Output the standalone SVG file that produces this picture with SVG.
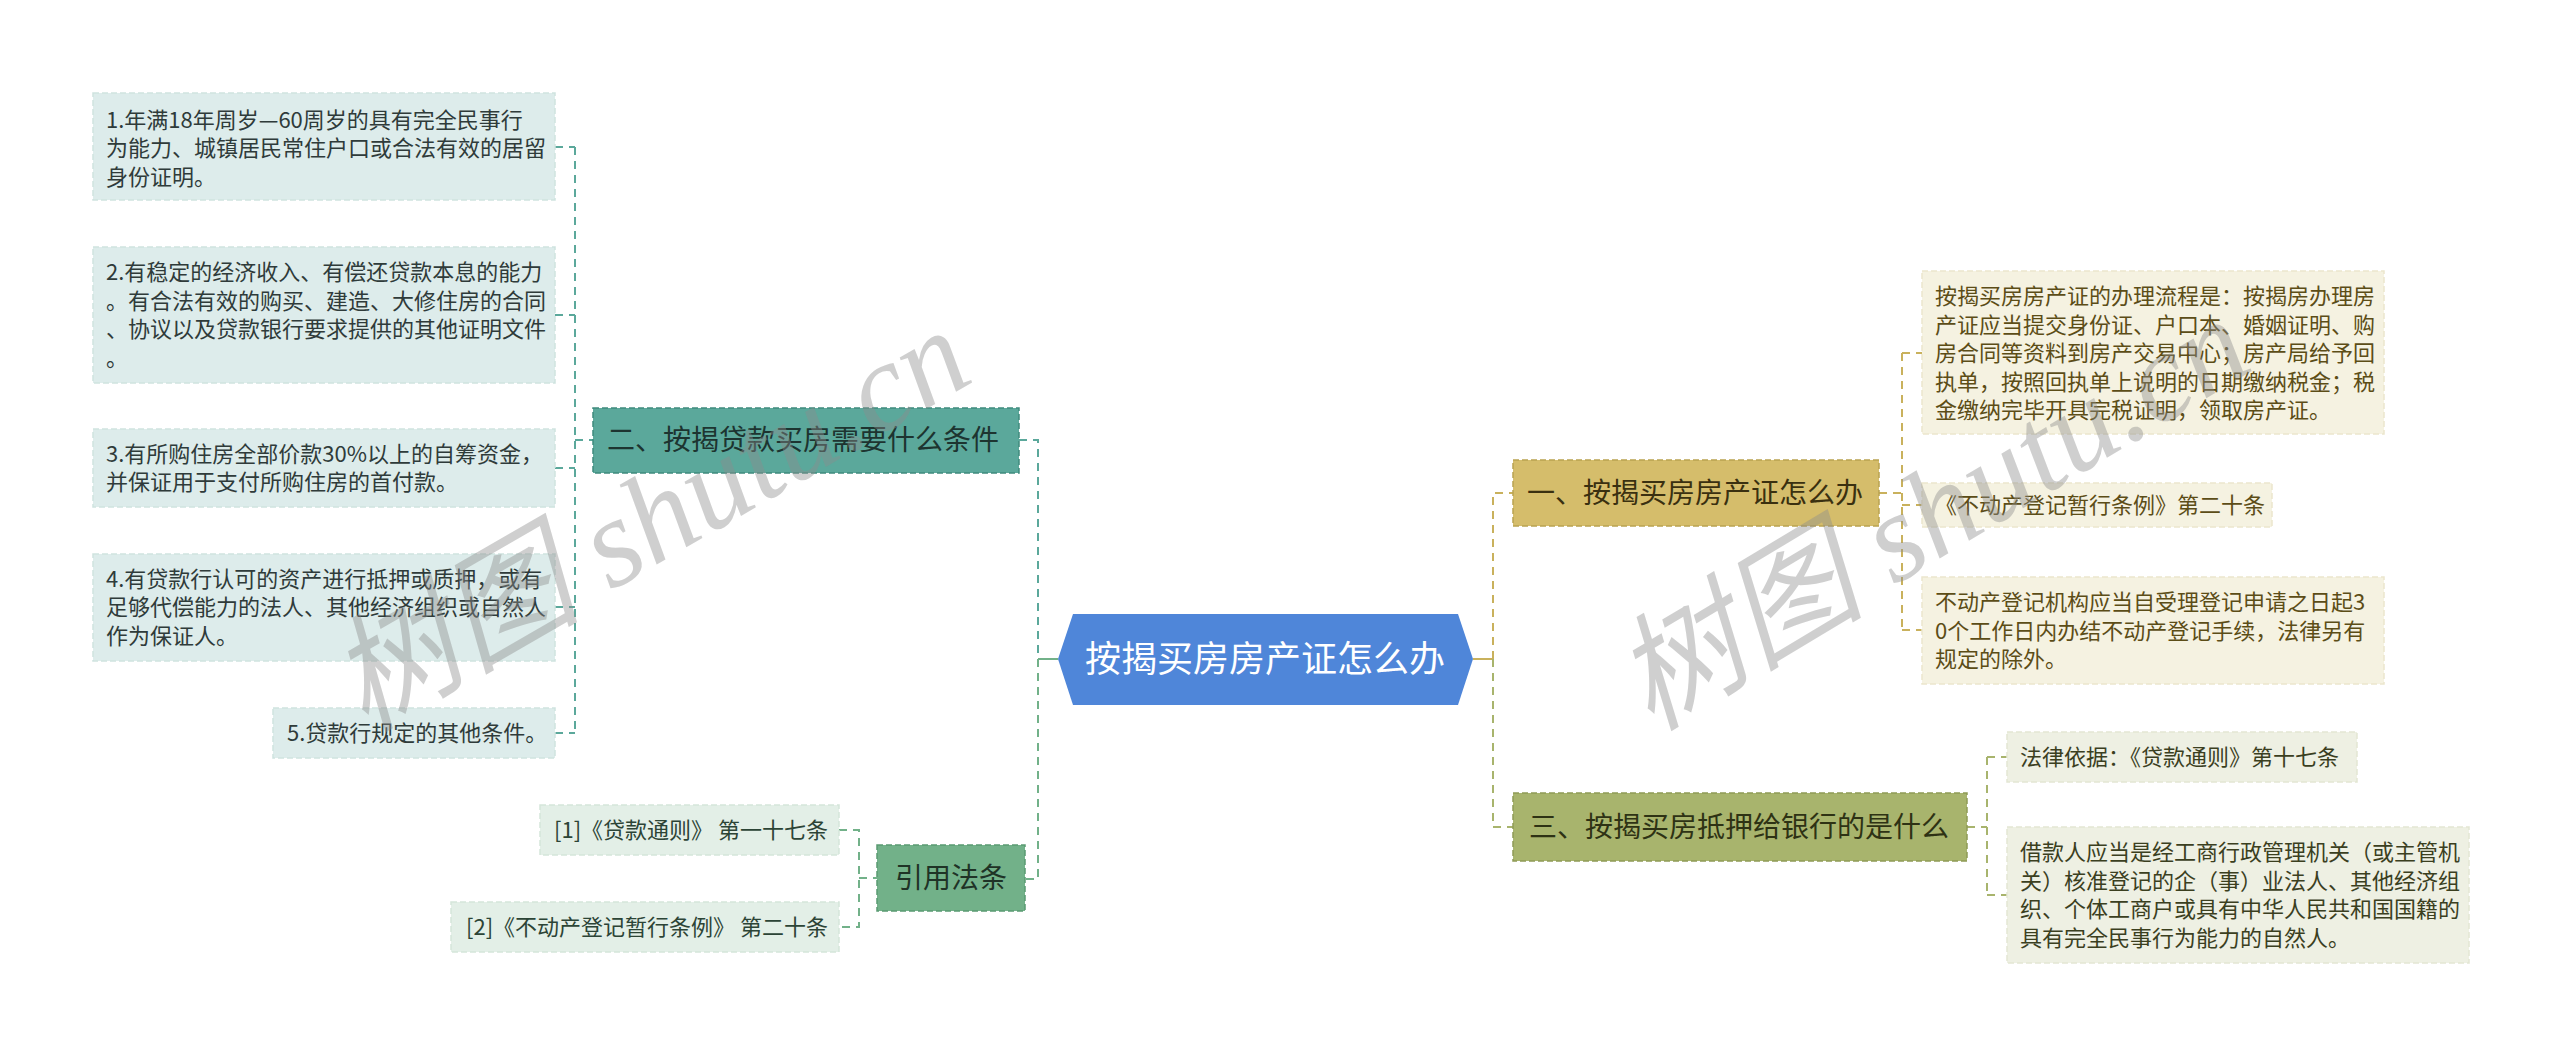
<svg xmlns="http://www.w3.org/2000/svg" width="2560" height="1058" viewBox="0 0 2560 1058">
<style>
  text { font-family: "Noto Sans CJK SC", "Noto Sans", sans-serif; }
  .t22 { font-size: 22px; }
  .t28 { font-size: 28px; }
  .lc { fill: #ddeceb; stroke: #cfe3e0; stroke-width: 1.5; stroke-dasharray: 6 3; }
  .lt { fill: #2f3b3a; }
  .cc { fill: #e3efe7; stroke: #d5e6da; stroke-width: 1.5; stroke-dasharray: 6 3; }
  .ct { fill: #2c4436; }
  .yc { fill: #f5f2e1; stroke: #ebe6cd; stroke-width: 1.5; stroke-dasharray: 6 3; }
  .yt { fill: #5c4d17; }
  .oc { fill: #eef0e3; stroke: #e3e6d3; stroke-width: 1.5; stroke-dasharray: 6 3; }
  .ot { fill: #3b3f1f; }
  .conn path { fill: none; stroke-width: 2; stroke-dasharray: 8 6; }
  .teal { stroke: #5ba89b; }
  .green { stroke: #72b189; }
  .gold { stroke: #c9b15c; }
  .olive { stroke: #a8b46d; }
  .wm { font-family: "Liberation Serif", "Noto Sans CJK SC", serif; font-style: italic; font-size: 126px; fill: #8c8c8c; fill-opacity: 0.42; }
</style>
<rect width="2560" height="1058" fill="#ffffff"/>

<g id="connectors" class="conn">
  <path class="teal" d="M555 147 H575 M555 315 H575 M555 468 H575 M555 607 H575 M555 733 H575 M575 147 V733 M575 440 H593"/>
  <path class="teal" d="M1019 440 H1038 V659"/>
  <path class="green" d="M1038 659 V879 H1025"/>
  <path class="green" d="M1038 659 H1058" style="stroke-dasharray:none"/>
  <path class="green" d="M839 830 H859 V927 H839 M859 878 H877"/>
  <path class="gold" d="M1473 659 H1493" style="stroke-dasharray:none"/>
  <path class="gold" d="M1493 659 V493 H1513"/>
  <path class="olive" d="M1493 659 V827 H1513"/>
  <path class="gold" d="M1879 493 H1902 M1902 353 V630 M1902 353 H1922 M1902 505 H1922 M1902 630 H1922"/>
  <path class="olive" d="M1967 827 H1987 M1987 757 V895 M1987 757 H2007 M1987 895 H2007"/>
</g>

<g id="center">
  <polygon points="1058,659 1073,614 1458,614 1473,659 1458,705 1073,705" fill="#4f86d9"/>
  <text x="1265" y="672" text-anchor="middle" font-size="36" fill="#ffffff">按揭买房房产证怎么办</text>
</g>

<g id="branch-2">
  <rect x="593" y="408" width="426" height="65" fill="#5ba89b" stroke="#3f8a7e" stroke-width="1.5" stroke-dasharray="6 3"/>
  <text x="607" y="450" class="t28" fill="#1d3430">二、按揭贷款买房需要什么条件</text>
</g>

<g id="cond-1">
  <rect x="93" y="93" width="462" height="107" class="lc"/>
  <text class="t22 lt"><tspan x="106" y="128">1.年满18年周岁—60周岁的具有完全民事行</tspan><tspan x="106" y="156">为能力、城镇居民常住户口或合法有效的居留</tspan><tspan x="106" y="185">身份证明。</tspan></text>
</g>
<g id="cond-2">
  <rect x="93" y="247" width="462" height="136" class="lc"/>
  <text class="t22 lt"><tspan x="106" y="280">2.有稳定的经济收入、有偿还贷款本息的能力</tspan><tspan x="106" y="309">。有合法有效的购买、建造、大修住房的合同</tspan><tspan x="106" y="337">、协议以及贷款银行要求提供的其他证明文件</tspan><tspan x="106" y="366">。</tspan></text>
</g>
<g id="cond-3">
  <rect x="93" y="429" width="462" height="78" class="lc"/>
  <text class="t22 lt"><tspan x="106" y="462">3.有所购住房全部价款30%以上的自筹资金，</tspan><tspan x="106" y="490">并保证用于支付所购住房的首付款。</tspan></text>
</g>
<g id="cond-4">
  <rect x="93" y="554" width="462" height="107" class="lc"/>
  <text class="t22 lt"><tspan x="106" y="587">4.有贷款行认可的资产进行抵押或质押，或有</tspan><tspan x="106" y="615">足够代偿能力的法人、其他经济组织或自然人</tspan><tspan x="106" y="644">作为保证人。</tspan></text>
</g>
<g id="cond-5">
  <rect x="273" y="708" width="282" height="50" class="lc"/>
  <text class="t22 lt" x="287" y="741">5.贷款行规定的其他条件。</text>
</g>

<g id="branch-cite">
  <rect x="877" y="845" width="148" height="66" fill="#72b189" stroke="#5a9a72" stroke-width="1.5" stroke-dasharray="6 3"/>
  <text x="951" y="888" text-anchor="middle" class="t28" fill="#1f3326">引用法条</text>
</g>
<g id="cite-1">
  <rect x="540" y="805" width="299" height="50" class="cc"/>
  <text class="t22 ct" x="828" y="838" text-anchor="end">[1]《贷款通则》 第一十七条</text>
</g>
<g id="cite-2">
  <rect x="451" y="902" width="388" height="50" class="cc"/>
  <text class="t22 ct" x="828" y="935" text-anchor="end">[2]《不动产登记暂行条例》 第二十条</text>
</g>

<g id="branch-1">
  <rect x="1513" y="460" width="366" height="66" fill="#d5bd6b" stroke="#b9a250" stroke-width="1.5" stroke-dasharray="6 3"/>
  <text x="1527" y="503" class="t28" fill="#3a3010">一、按揭买房房产证怎么办</text>
</g>
<g id="b1-child-1">
  <rect x="1922" y="271" width="462" height="163" class="yc"/>
  <text class="t22 yt"><tspan x="1935" y="304">按揭买房房产证的办理流程是：按揭房办理房</tspan><tspan x="1935" y="333">产证应当提交身份证、户口本、婚姻证明、购</tspan><tspan x="1935" y="361">房合同等资料到房产交易中心；房产局给予回</tspan><tspan x="1935" y="390">执单，按照回执单上说明的日期缴纳税金；税</tspan><tspan x="1935" y="418">金缴纳完毕开具完税证明，领取房产证。</tspan></text>
</g>
<g id="b1-child-2">
  <rect x="1922" y="483" width="350" height="44" class="yc"/>
  <text class="t22 yt" x="1935" y="513">《不动产登记暂行条例》第二十条</text>
</g>
<g id="b1-child-3">
  <rect x="1922" y="577" width="462" height="107" class="yc"/>
  <text class="t22 yt"><tspan x="1935" y="610">不动产登记机构应当自受理登记申请之日起3</tspan><tspan x="1935" y="639">0个工作日内办结不动产登记手续，法律另有</tspan><tspan x="1935" y="667">规定的除外。</tspan></text>
</g>

<g id="branch-3">
  <rect x="1513" y="793" width="454" height="68" fill="#a8b46d" stroke="#8e9a55" stroke-width="1.5" stroke-dasharray="6 3"/>
  <text x="1529" y="837" class="t28" fill="#2e3214">三、按揭买房抵押给银行的是什么</text>
</g>
<g id="b3-child-1">
  <rect x="2007" y="732" width="350" height="50" class="oc"/>
  <text class="t22 ot" x="2020" y="765">法律依据：《贷款通则》第十七条</text>
</g>
<g id="b3-child-2">
  <rect x="2007" y="827" width="462" height="136" class="oc"/>
  <text class="t22 ot"><tspan x="2020" y="860">借款人应当是经工商行政管理机关（或主管机</tspan><tspan x="2020" y="889">关）核准登记的企（事）业法人、其他经济组</tspan><tspan x="2020" y="917">织、个体工商户或具有中华人民共和国国籍的</tspan><tspan x="2020" y="946">具有完全民事行为能力的自然人。</tspan></text>
</g>

<g id="watermarks">
  <text class="wm" transform="translate(650,520) rotate(-30)" text-anchor="middle" y="42">树图 shutu.cn</text>
  <text class="wm" transform="translate(1932,514) rotate(-31)" text-anchor="middle" y="42">树图 shutu.cn</text>
</g>
</svg>
